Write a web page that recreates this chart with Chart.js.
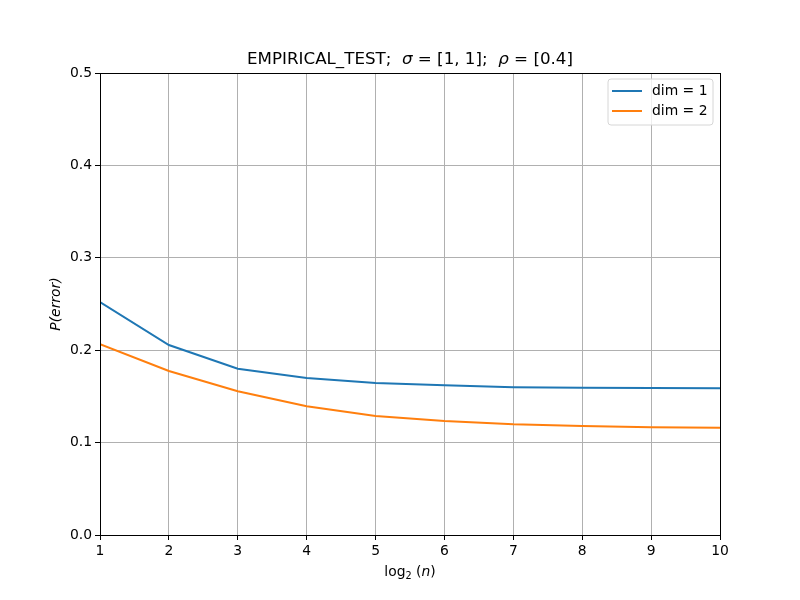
<!DOCTYPE html>
<html>
<head>
<meta charset="utf-8">
<script src="https://cdn.jsdelivr.net/npm/chart.js@4/dist/chart.umd.min.js"></script>
<style>
  html, body { margin: 0; padding: 0; background: #fff; }
  #wrap { width: 800px; height: 600px; }
</style>
</head>
<body>
<div id="wrap"><canvas id="chart" width="800" height="600"></canvas></div>
<script>
// data
const logN = [1, 2, 3, 4, 5, 6, 7, 8, 9, 10];
const dim1 = [0.252, 0.2056, 0.180, 0.170, 0.1645, 0.162, 0.160, 0.1594, 0.159, 0.1588];
const dim2 = [0.2064, 0.1775, 0.1555, 0.1393, 0.1288, 0.1234, 0.1198, 0.118, 0.1166, 0.1162];
const seriesLabels = ["dim = 1", "dim = 2"];
const yTicks = [0, 0.1, 0.2, 0.3, 0.4, 0.5];

const FONT = "'DejaVu Sans', sans-serif";

function pts(ys) {
  return logN.map((x, i) => ({ x: x, y: ys[i] }));
}

// frame, title, axis labels and legend drawn like matplotlib
const extras = {
  id: "extras",
  afterDraw(chart) {
    const ctx = chart.ctx;
    const a = chart.chartArea;
    ctx.save();

    // frame
    ctx.strokeStyle = "#000";
    ctx.lineWidth = 1;
    ctx.strokeRect(Math.round(a.left) + 0.5, Math.round(a.top) + 0.5,
                   Math.round(a.right - a.left), Math.round(a.bottom - a.top));

    // title with italic greek letters
    const parts = [
      ["EMPIRICAL_TEST;  ", ""],
      ["σ", "italic "],
      [" = [1, 1];  ", ""],
      ["ρ", "italic "],
      [" = [0.4]", ""]
    ];
    ctx.fillStyle = "#000";
    ctx.textBaseline = "alphabetic";
    let total = 0;
    parts.forEach(p => { ctx.font = p[1] + "16.7px " + FONT; total += ctx.measureText(p[0]).width; });
    let x = (a.left + a.right) / 2 - total / 2;
    parts.forEach(p => {
      ctx.font = p[1] + "16.7px " + FONT;
      ctx.textAlign = "left";
      ctx.fillText(p[0], x, 64);
      x += ctx.measureText(p[0]).width;
    });

    // x label: log2(n)
    ctx.font = "13.9px " + FONT;
    const w1 = ctx.measureText("log").width;
    ctx.font = "9.7px " + FONT;
    const w2 = ctx.measureText("2").width;
    ctx.font = "13.9px " + FONT;
    const w3 = ctx.measureText(" (").width;
    ctx.font = "italic 13.9px " + FONT;
    const w4 = ctx.measureText("n").width;
    ctx.font = "13.9px " + FONT;
    const w5 = ctx.measureText(")").width;
    let lx = (a.left + a.right) / 2 - (w1 + w2 + w3 + w4 + w5) / 2;
    const ly = 576;
    ctx.fillText("log", lx, ly); lx += w1;
    ctx.font = "9.7px " + FONT;
    ctx.fillText("2", lx, ly + 3); lx += w2;
    ctx.font = "13.9px " + FONT;
    ctx.fillText(" (", lx, ly); lx += w3;
    ctx.font = "italic 13.9px " + FONT;
    ctx.fillText("n", lx, ly); lx += w4;
    ctx.font = "13.9px " + FONT;
    ctx.fillText(")", lx, ly);

    // y label
    ctx.save();
    ctx.translate(60, (a.top + a.bottom) / 2);
    ctx.rotate(-Math.PI / 2);
    ctx.font = "italic 13.9px " + FONT;
    ctx.textAlign = "center";
    ctx.fillText("P(error)", 0, 0);
    ctx.restore();

    // legend
    const bx = 608, by = 79, bw = 105, bh = 46, r = 3;
    ctx.beginPath();
    ctx.moveTo(bx + r, by);
    ctx.arcTo(bx + bw, by, bx + bw, by + bh, r);
    ctx.arcTo(bx + bw, by + bh, bx, by + bh, r);
    ctx.arcTo(bx, by + bh, bx, by, r);
    ctx.arcTo(bx, by, bx + bw, by, r);
    ctx.closePath();
    ctx.fillStyle = "rgba(255,255,255,0.8)";
    ctx.fill();
    ctx.strokeStyle = "#d6d6d6";
    ctx.lineWidth = 1;
    ctx.stroke();
    chart.data.datasets.forEach((ds, i) => {
      const yy = by + 12 + i * 20;
      ctx.strokeStyle = ds.borderColor;
      ctx.lineWidth = 2;
      ctx.beginPath();
      ctx.moveTo(bx + 4, yy);
      ctx.lineTo(bx + 34, yy);
      ctx.stroke();
      ctx.fillStyle = "#000";
      ctx.font = "13.9px " + FONT;
      ctx.textAlign = "left";
      ctx.textBaseline = "middle";
      ctx.fillText(ds.label, bx + 44, yy);
    });
    ctx.restore();
  }
};

new Chart(document.getElementById("chart"), {
  type: "line",
  data: {
    datasets: [
      { label: seriesLabels[0], data: pts(dim1), borderColor: "#1f77b4", backgroundColor: "#1f77b4" },
      { label: seriesLabels[1], data: pts(dim2), borderColor: "#ff7f0e", backgroundColor: "#ff7f0e" }
    ]
  },
  options: {
    responsive: false,
    animation: false,
    layout: { padding: { left: 0, right: 80, top: 73, bottom: 0 } },
    elements: {
      point: { radius: 0 },
      line: { borderWidth: 2, tension: 0 }
    },
    plugins: {
      legend: { display: false },
      title: { display: false },
      tooltip: { enabled: false }
    },
    scales: {
      x: {
        type: "linear",
        min: 1,
        max: 10,
        afterFit: s => { s.height = 65; },
        grid: { color: "#b0b0b0", lineWidth: 1, tickColor: "#000", tickLength: 5, drawOnChartArea: true },
        border: { display: false },
        ticks: {
          stepSize: 1,
          color: "#000",
          padding: 3,
          maxRotation: 0,
          font: { family: FONT, size: 13.9 }
        }
      },
      y: {
        min: 0,
        max: 0.5,
        afterFit: s => { s.width = 100; },
        afterBuildTicks: s => { s.ticks = yTicks.map(v => ({ value: v })); },
        grid: { color: "#b0b0b0", lineWidth: 1, tickColor: "#000", tickLength: 5 },
        border: { display: false },
        ticks: {
          color: "#000",
          padding: 3,
          font: { family: FONT, size: 13.9 },
          callback: v => v.toFixed(1)
        }
      }
    }
  },
  plugins: [extras]
});
</script>
</body>
</html>
